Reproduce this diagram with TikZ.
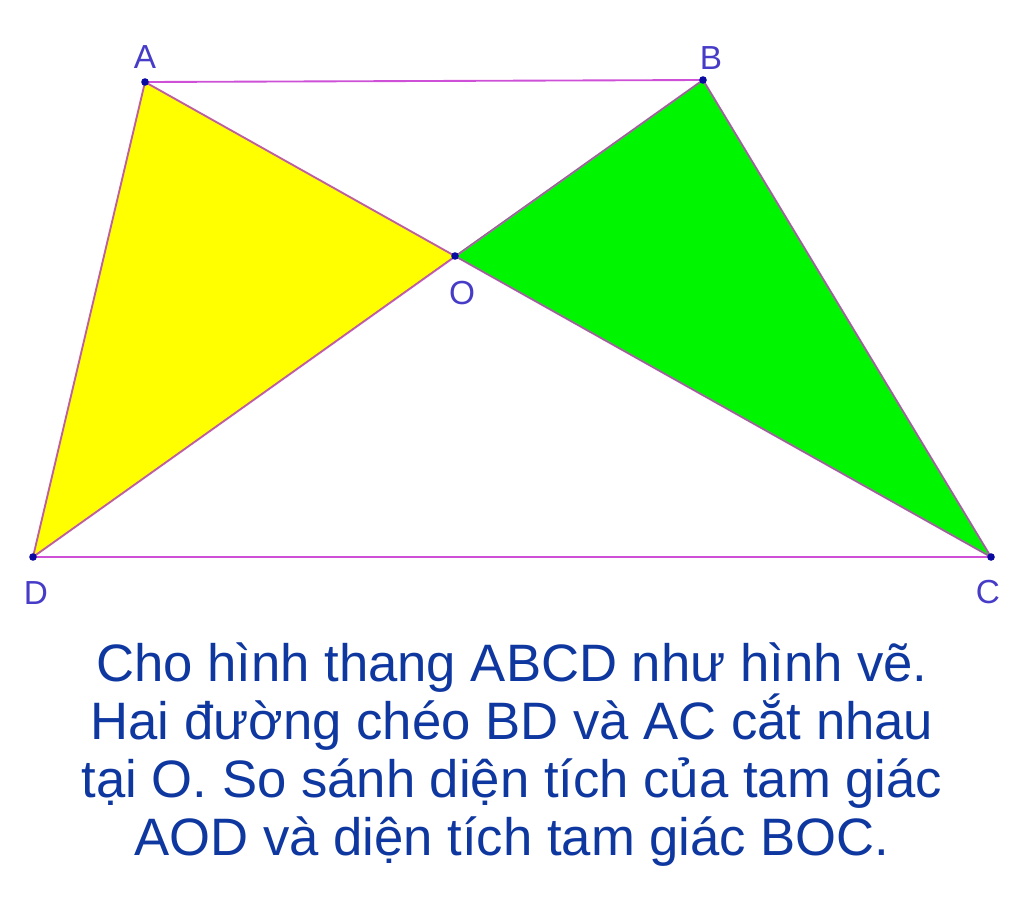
\documentclass[tikz,border=0pt]{standalone}
\usepackage{fontspec}
\setmainfont{Liberation Sans}
\definecolor{edgepink}{RGB}{205,80,215}
\definecolor{ptblue}{RGB}{10,10,160}
\definecolor{lblblue}{RGB}{70,60,200}
\definecolor{txtblue}{RGB}{15,55,160}
\definecolor{fillyellow}{RGB}{255,255,0}
\definecolor{fillgreen}{RGB}{0,245,0}
\begin{document}
\begin{tikzpicture}[x=0.75pt,y=0.75pt,yscale=-1,xscale=1,
  edge/.style={color=edgepink,line width=1.4pt},
  ptdot/.style={fill=ptblue},
  lbl/.style={color=lblblue,font=\fontsize{25}{28}\selectfont},
  txt/.style={color=txtblue,font=\fontsize{39.5}{43.5}\selectfont,align=center}]
\useasboundingbox (0,0) rectangle (1024,914);

% vertices
\coordinate (A) at (145,82);
\coordinate (B) at (703,80);
\coordinate (C) at (991,557);
\coordinate (D) at (33,557);
\coordinate (O) at (455,256);

% triangles
\fill [fillyellow] (A) -- (O) -- (D) -- cycle;
\fill [fillgreen] (B) -- (O) -- (C) -- cycle;

% sides and diagonals
\draw [edge] (A) -- (B);
\draw [edge] (D) -- (C);
\draw [edge] (A) -- (D);
\draw [edge] (B) -- (C);
\draw [edge] (A) -- (C);
\draw [edge] (B) -- (D);
\draw [color={rgb, 255:red, 170; green, 120; blue, 80 },line width=0.6pt,draw opacity=0.8] (A) -- (O) -- (D) -- cycle;
\draw [color={rgb, 255:red, 100; green, 130; blue, 80 },line width=0.6pt,draw opacity=0.8] (B) -- (O) -- (C) -- cycle;

% points
\foreach \p in {A,B,C,D,O}
  \fill [ptdot] (\p) circle (3.8);

% labels
\node [lbl] (lA) at (145,57) {A};
\node [lbl] (lB) at (711,58) {B};
\node [lbl] (lO) at (462,293) {O};
\node [lbl] (lD) at (36,593) {D};
\node [lbl] (lC) at (988,592) {C};

% question text
\node [txt,anchor=north] (q) at (512,638) {Cho hình thang ABCD như hình vẽ.\\Hai đường chéo BD và AC cắt nhau\\tại O. So sánh diện tích của tam giác\\AOD và diện tích tam giác BOC.};

\end{tikzpicture}
\end{document}
